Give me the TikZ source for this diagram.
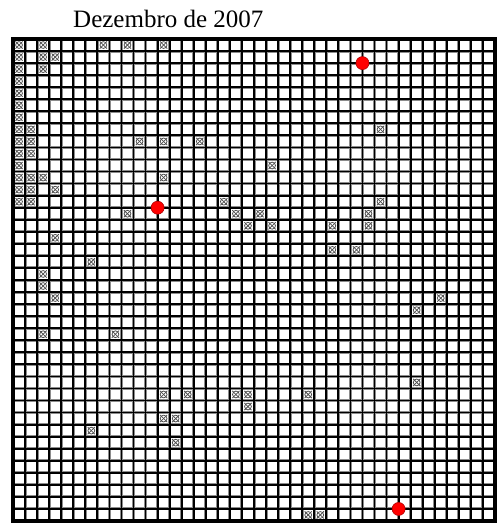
\documentclass[tikz,border=0pt]{standalone}
\usepackage{fontspec}
\setmainfont{Liberation Serif}
\begin{document}
\begin{tikzpicture}[x=1bp,y=-1bp,
  gridhalo/.style={draw=black!45,line width=3.0bp},
  gridline/.style={draw=black,line width=1.8bp},
  gridborder/.style={draw=black,line width=3.2bp},
  markc/.style={draw=black!70,line width=0.75bp},
  reddot/.style={fill=red,draw=red!70!black,line width=0.6bp},
  titlestyle/.style={font=\fontsize{25bp}{29bp}\selectfont,inner sep=0pt,anchor=base west}]
\useasboundingbox (0,0) rectangle (499,525);
\fill[white] (0,0) rectangle (499,525);
\def\gx{13}\def\gy{39}\def\pp{12.05}
% grid
\foreach \i in {1,...,39} {
  \draw[gridhalo] ({\gx+\pp*\i},\gy) -- ({\gx+\pp*\i},{\gy+\pp*40});
  \draw[gridhalo] (\gx,{\gy+\pp*\i}) -- ({\gx+\pp*40},{\gy+\pp*\i});
}
\foreach \i in {1,...,39} {
  \draw[gridline] ({\gx+\pp*\i},\gy) -- ({\gx+\pp*\i},{\gy+\pp*40});
  \draw[gridline] (\gx,{\gy+\pp*\i}) -- ({\gx+\pp*40},{\gy+\pp*\i});
}
\draw[gridborder] (\gx,\gy) rectangle ({\gx+\pp*40},{\gy+\pp*40});
% marked cells
\foreach \c/\r in {0/0,2/0,7/0,9/0,12/0,
  0/1,2/1,3/1, 0/2,2/2, 0/3,0/4,0/5,0/6,
  0/7,1/7,30/7, 0/8,1/8,10/8,12/8,15/8, 0/9,1/9, 0/10,21/10,
  0/11,1/11,2/11,12/11, 0/12,1/12,3/12, 0/13,1/13,17/13,30/13,
  9/14,18/14,20/14,29/14, 19/15,21/15,26/15,29/15, 3/16, 26/17,28/17,
  6/18, 2/19, 2/20, 3/21,35/21, 33/22, 2/24,8/24, 33/28,
  12/29,14/29,18/29,19/29,24/29, 19/30, 12/31,13/31, 6/32, 13/33,
  24/39,25/39} {
  \pgfmathsetmacro{\cx}{\gx+\pp*\c+\pp/2}
  \pgfmathsetmacro{\cy}{\gy+\pp*\r+\pp/2}
  \draw[markc] (\cx,\cy) circle (3.4bp);
  \draw[markc] ({\cx-3.6},{\cy-3.6}) -- ({\cx+3.6},{\cy+3.6});
  \draw[markc] ({\cx-3.6},{\cy+3.6}) -- ({\cx+3.6},{\cy-3.6});
}
% red dots at grid intersections
\foreach \c/\r in {29/2,12/14,32/39} {
  \fill[reddot] ({\gx+\pp*\c},{\gy+\pp*\r}) circle (6.5bp);
}
\node[titlestyle] (title) at (73,28) {Dezembro de 2007};
\end{tikzpicture}
\end{document}
